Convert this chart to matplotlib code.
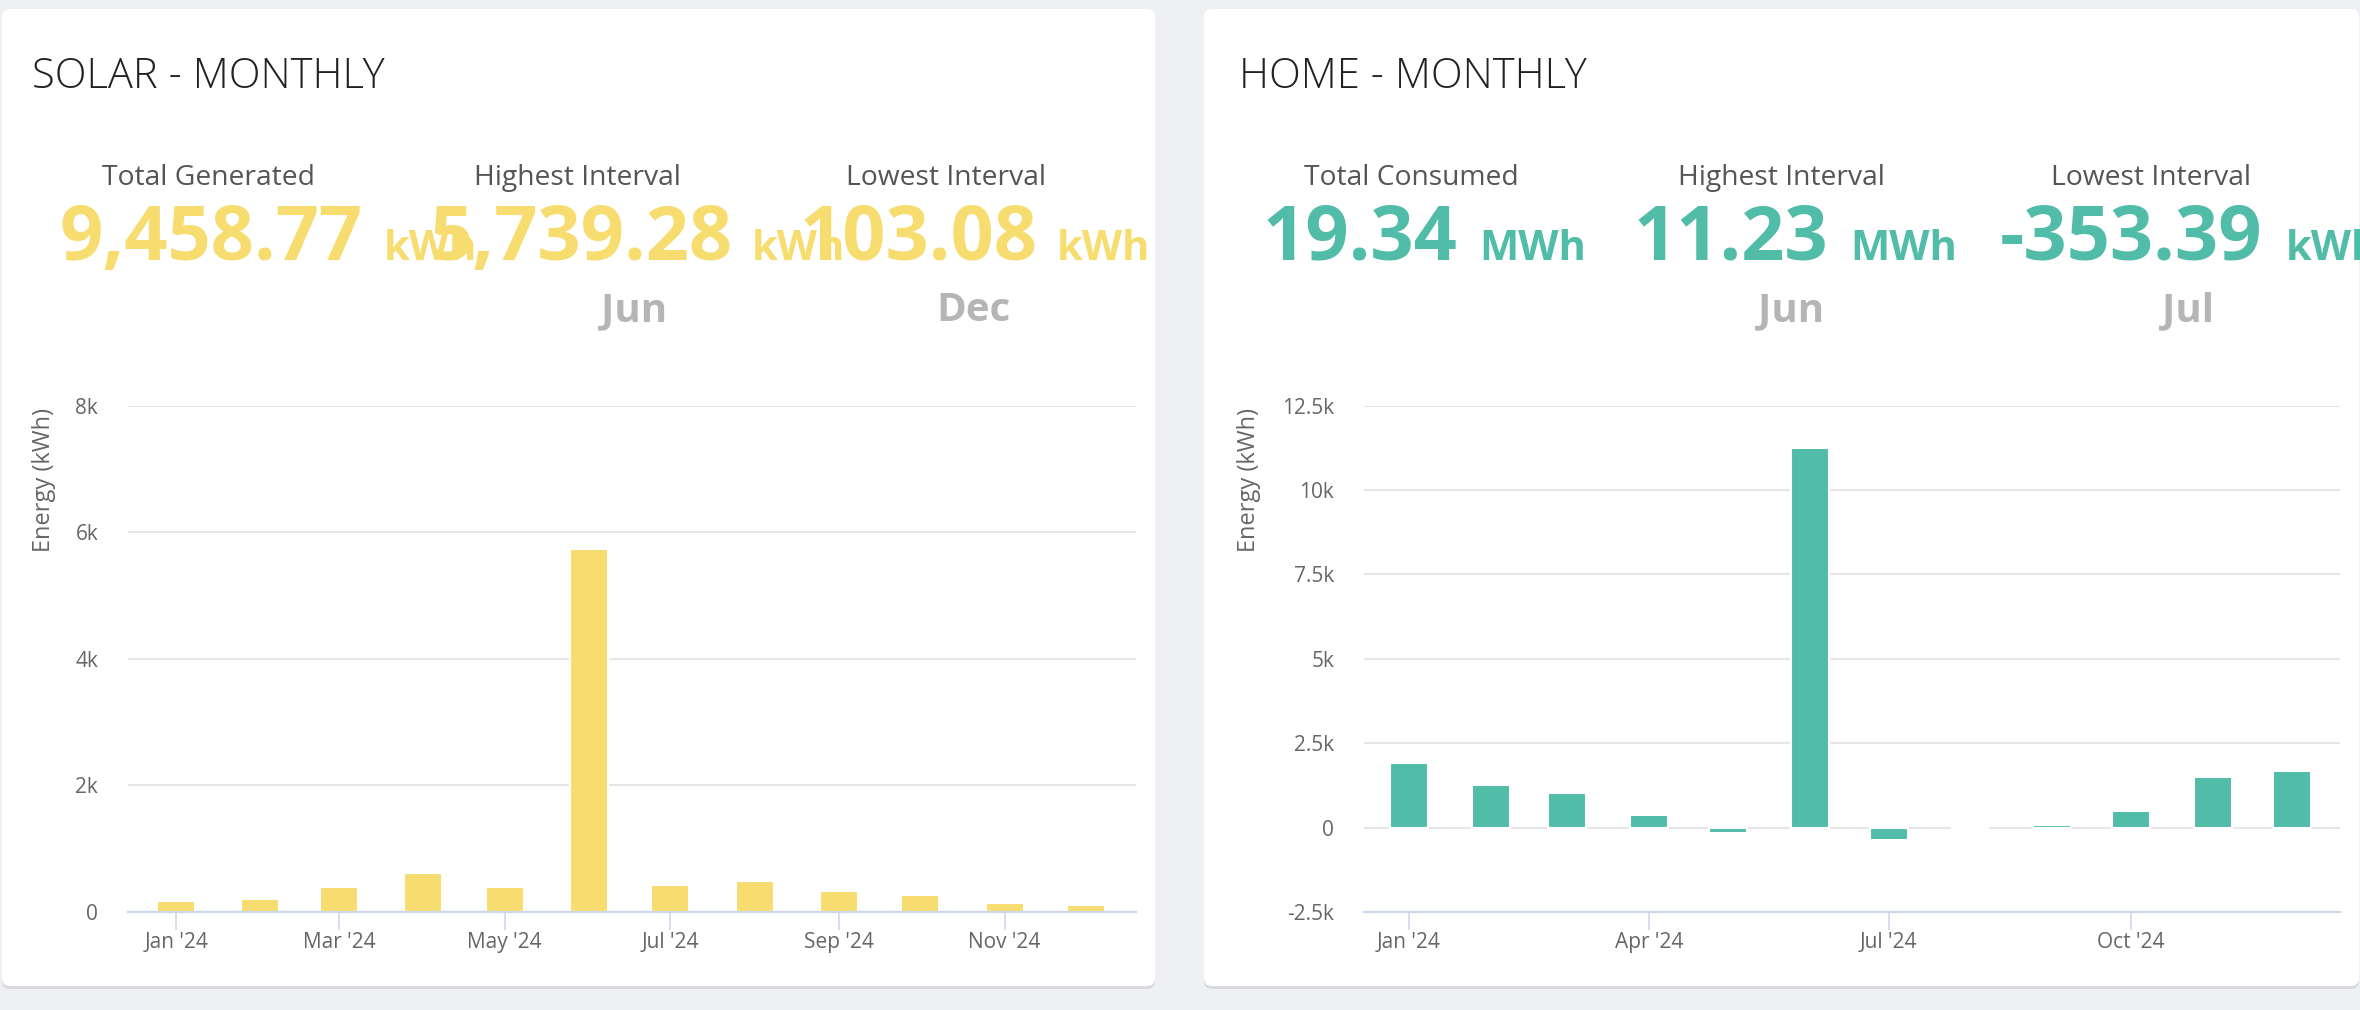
import datetime as dt
import matplotlib
matplotlib.use("Agg")
import matplotlib.pyplot as plt
import matplotlib.dates as mdates
from matplotlib.patches import FancyBboxPatch
from matplotlib.ticker import FuncFormatter, FixedLocator

plt.rcParams['font.family'] = ['Open Sans', 'DejaVu Sans']

# ---------------- data ----------------
months = ["2024-01-01", "2024-02-01", "2024-03-01", "2024-04-01", "2024-05-01", "2024-06-01",
          "2024-07-01", "2024-08-01", "2024-09-01", "2024-10-01", "2024-11-01", "2024-12-01"]
solar_kwh = [168, 200, 390, 611, 390, 5739.28, 425, 485, 332, 266, 140, 103.08]
home_kwh = [1925, 1260, 1021, 367, -150, 11230, -353.39, 0, 79, 495, 1504, 1683]

solar_title = "SOLAR - MONTHLY"
solar_stat_labels = ["Total Generated", "Highest Interval", "Lowest Interval"]
solar_stat_values = ["9,458.77", "5,739.28", "103.08"]
solar_stat_units = ["kWh", "kWh", "kWh"]
solar_stat_months = ["", "Jun", "Dec"]

home_title = "HOME - MONTHLY"
home_stat_labels = ["Total Consumed", "Highest Interval", "Lowest Interval"]
home_stat_values = ["19.34", "11.23", "-353.39"]
home_stat_units = ["MWh", "MWh", "kWh"]
home_stat_months = ["", "Jun", "Jul"]

solar_yticks = [0, 2000, 4000, 6000, 8000]
home_yticks = [-2500, 0, 2500, 5000, 7500, 10000, 12500]
solar_xtick_months = [1, 3, 5, 7, 9, 11]
home_xtick_months = [1, 4, 7, 10]
y_label = "Energy (kWh)"

# ---------------- styles ----------------
W, H = 2360, 1010
BG = '#eff0f4'
YELLOW = '#f7dc6f'
TEAL = '#51bca8'
GRID = '#e6e6e6'
AXIS = '#ccd6eb'
TICK_TXT = '#666666'

dates = [dt.datetime.strptime(m, "%Y-%m-%d") for m in months]
xnum = mdates.date2num(dates)

fig = plt.figure(figsize=(W / 100, H / 100), dpi=100)
fig.patch.set_facecolor(BG)

# overlay axes in pixel coordinates (origin top-left)
ov = fig.add_axes([0, 0, 1, 1], zorder=0)
ov.set_xlim(0, W)
ov.set_ylim(H, 0)
ov.axis('off')


def card(x0, y0, x1, y1):
    sh = FancyBboxPatch((x0, y0 + 3), x1 - x0, y1 - y0,
                        boxstyle="round,pad=0,rounding_size=8",
                        facecolor='#c9cace', edgecolor='none', alpha=0.6, zorder=1)
    ov.add_patch(sh)
    c = FancyBboxPatch((x0, y0), x1 - x0, y1 - y0,
                       boxstyle="round,pad=0,rounding_size=8",
                       facecolor='white', edgecolor='none', zorder=2)
    ov.add_patch(c)


card(2, 9, 1155, 986)
card(1204, 9, 2359, 986)


def header(title, title_x, labels, label_cx, values, value_x, units, unit_x,
           subs, sub_cx, color):
    ov.text(title_x, 88, title, fontsize=30, fontweight='light', color='#222222',
            ha='left', va='baseline', zorder=5)
    for i in range(3):
        ov.text(label_cx[i], 185, labels[i], fontsize=20.3, color='#555555',
                ha='center', va='baseline', zorder=5)
        ov.text(value_x[i], 260, values[i], fontsize=54.5, fontweight='bold', color=color,
                ha='left', va='baseline', zorder=5)
        ov.text(unit_x[i], 260, units[i], fontsize=30, fontweight='bold', color=color,
                ha='left', va='baseline', zorder=5)
        if subs[i]:
            ov.text(sub_cx[i], 321, subs[i], fontsize=29, fontweight='bold', color='#b5b5b5',
                    ha='center', va='baseline', zorder=5)


header(solar_title, 32, solar_stat_labels, [208, 577, 946], solar_stat_values,
       [59, 429, 800], solar_stat_units, [384, 752, 1057], solar_stat_months,
       [0, 634, 973], YELLOW)
header(home_title, 1239, home_stat_labels, [1411, 1781, 2151], home_stat_values,
       [1263, 1634, 2000], home_stat_units, [1479, 1850, 2286], home_stat_months,
       [0, 1791, 2188], TEAL)


def kfmt(v, pos):
    if v == 0:
        return "0"
    return f"{v / 1000:g}k"


def chart(px0, px1, values, color, yticks, xtick_months, left_pad_days, right_pad_days,
          ylabel_x, bar_days):
    top, bottom = 405.6, 912.0
    ax = fig.add_axes([px0 / W, 1 - bottom / H, (px1 - px0) / W, (bottom - top) / H], zorder=3)
    ax.set_facecolor('none')
    ax.bar(xnum, values, width=bar_days, color=color, edgecolor='white', linewidth=1.5, zorder=3)
    ax.set_xlim(xnum[0] - left_pad_days, xnum[-1] + right_pad_days)
    ax.set_ylim(yticks[0], yticks[-1])
    ax.yaxis.set_major_locator(FixedLocator(yticks))
    ax.yaxis.set_major_formatter(FuncFormatter(kfmt))
    ax.xaxis.set_major_locator(mdates.MonthLocator(bymonth=xtick_months))
    ax.xaxis.set_major_formatter(mdates.DateFormatter("%b '%y"))
    ax.set_axisbelow(True)
    ax.yaxis.grid(True, color=GRID, linewidth=1.5)
    for s in ['top', 'left', 'right']:
        ax.spines[s].set_visible(False)
    ax.spines['bottom'].set_color(AXIS)
    ax.spines['bottom'].set_linewidth(1.6)
    ax.spines['bottom'].set_zorder(4)
    ax.tick_params(axis='y', length=0, pad=21.5, labelsize=15, labelcolor=TICK_TXT)
    ax.tick_params(axis='x', length=13, width=1.1, color=AXIS, pad=1.5,
                   labelsize=15, labelcolor=TICK_TXT)
    ov.text(ylabel_x, 408, y_label, rotation=90, fontsize=17, color=TICK_TXT,
            ha='center', va='top', zorder=5)
    return ax


chart(128, 1136, solar_kwh, YELLOW, solar_yticks, solar_xtick_months, 17.7, 18.4, 44, 14.0)
chart(1364, 2340, home_kwh, TEAL, home_yticks, home_xtick_months, 17.0, 18.2, 1249, 14.4)

fig.savefig("out.png", dpi=100, facecolor=fig.get_facecolor())
